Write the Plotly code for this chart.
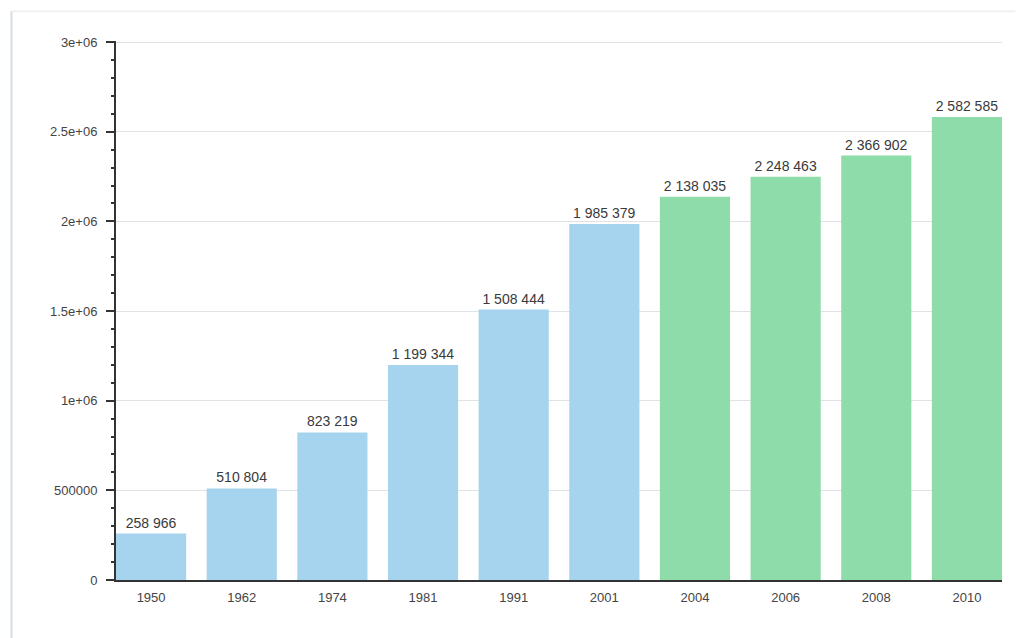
import plotly.graph_objects as go

# Population by census / estimate year
years = ["1950", "1962", "1974", "1981", "1991", "2001", "2004", "2006", "2008", "2010"]
population = [258966, 510804, 823219, 1199344, 1508444, 1985379, 2138035, 2248463, 2366902, 2582585]
# census years in blue, later estimates in green
bar_colors = ["#a6d4ee"] * 6 + ["#8fdcab"] * 4

y_tickvals = [0, 500000, 1000000, 1500000, 2000000, 2500000, 3000000]
y_ticktext = ["0", "500000", "1e+06", "1.5e+06", "2e+06", "2.5e+06", "3e+06"]

labels = [f"{v:,}".replace(",", " ") for v in population]

fig = go.Figure(
    go.Bar(
        x=years,
        y=population,
        marker=dict(color=bar_colors, line=dict(width=0)),
        text=labels,
        textposition="outside",
        textfont=dict(family="Liberation Sans, Arial, sans-serif", size=14, color="#3a3a3a"),
        cliponaxis=False,
    )
)

fig.update_layout(
    width=1020,
    height=638,
    margin=dict(l=116, r=18, t=41, b=58),
    paper_bgcolor="white",
    plot_bgcolor="white",
    bargap=0.226,
    showlegend=False,
    font=dict(family="Liberation Sans, Arial, sans-serif", size=13, color="#444444"),
    shapes=[
        # thin frame around the panel
        dict(type="line", xref="paper", yref="paper", x0=-0.118, x1=-0.118, y0=-0.12, y1=1.055,
             line=dict(color="#d8dde2", width=2)),
        dict(type="line", xref="paper", yref="paper", x0=-0.118, x1=1.015, y0=1.055, y1=1.055,
             line=dict(color="#eff1f3", width=2)),
    ],
)

fig.update_xaxes(
    type="category",
    range=[-0.387, 9.387],
    showline=True,
    linecolor="#333333",
    linewidth=2,
    ticks="",
    showgrid=False,
    tickfont=dict(size=13, color="#444444"),
    ticklabelstandoff=4,
)

fig.update_yaxes(
    range=[0, 3006000],
    tickvals=y_tickvals,
    ticktext=y_ticktext,
    showline=True,
    linecolor="#333333",
    linewidth=2,
    ticks="outside",
    ticklen=8,
    tickwidth=2,
    tickcolor="#333333",
    minor=dict(dtick=100000, ticks="outside", ticklen=3, tickwidth=2, tickcolor="#333333", showgrid=False),
    showgrid=True,
    gridcolor="#dfe3e6",
    gridwidth=1,
    zeroline=False,
    tickfont=dict(size=13, color="#444444"),
    ticklabelstandoff=6,
)

fig.write_html("out.html")
